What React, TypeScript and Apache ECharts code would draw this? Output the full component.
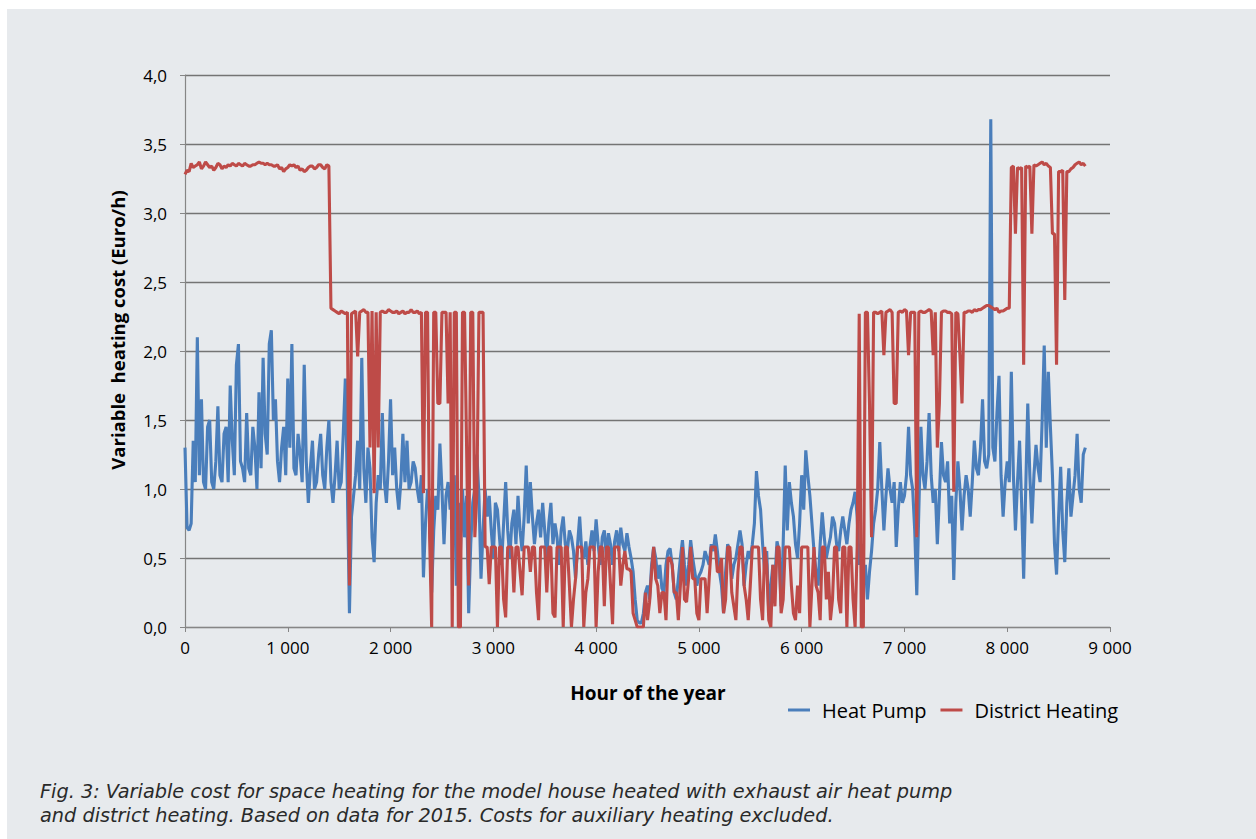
import React, { useEffect, useRef } from "react";
import * as echarts from "echarts";

const STEP_HOURS = 20;

const heatPump = [
  1.30, 0.72, 0.70, 0.75, 1.35, 1.05, 2.10, 1.10, 1.65, 1.05,
  1.00, 1.45, 1.50, 1.05, 1.00, 1.20, 1.60, 1.10, 1.05, 1.40,
  1.45, 1.05, 1.75, 1.35, 1.10, 1.90, 2.05, 1.20, 1.15, 1.05,
  1.55, 1.15, 1.10, 1.45, 1.30, 1.00, 1.70, 1.15, 1.95, 1.40,
  1.25, 2.05, 2.15, 1.50, 1.65, 1.20, 1.05, 1.30, 1.45, 1.10,
  1.80, 1.30, 2.05, 1.15, 1.10, 1.40, 1.25, 1.05, 1.90, 1.20,
  0.90, 1.15, 1.35, 1.00, 1.05, 1.25, 1.40, 1.10, 1.00, 1.30,
  1.50, 1.05, 0.90, 1.10, 1.35, 1.00, 1.05, 1.40, 1.80, 1.00,
  0.10, 0.80, 0.95, 1.10, 1.35, 1.00, 1.95, 1.15, 0.90, 1.30,
  1.15, 0.65, 0.47, 0.90, 1.10, 1.00, 1.55, 1.05, 0.90, 1.20,
  1.65, 1.10, 1.30, 1.00, 0.85, 1.05, 1.40, 1.05, 1.35, 1.00,
  1.05, 1.20, 1.15, 1.00, 0.90, 1.10, 0.36, 0.75, 1.00, 0.90,
  0.25, 0.70, 0.95, 0.85, 1.33, 1.00, 0.60, 0.95, 1.05, 0.85,
  1.00, 1.10, 0.30, 0.90, 0.55, 1.00, 0.65, 0.95, 0.10, 0.60,
  0.90, 1.00, 1.25, 0.95, 0.35, 0.70, 1.00, 0.80, 0.95, 0.70,
  0.50, 0.90, 0.85, 0.65, 0.45, 0.75, 1.05, 0.70, 0.50, 0.75,
  0.85, 0.60, 0.95, 0.70, 0.55, 0.80, 1.17, 0.75, 1.05, 0.80,
  0.60, 0.75, 0.85, 0.65, 0.90, 0.70, 0.50, 0.75, 0.90, 0.60,
  0.75, 0.65, 0.45, 0.70, 0.80, 0.60, 0.55, 0.70, 0.65, 0.55,
  0.35, 0.60, 0.80, 0.55, 0.50, 0.62, 0.45, 0.58, 0.70, 0.55,
  0.78, 0.60, 0.45, 0.65, 0.70, 0.50, 0.68, 0.60, 0.45, 0.62,
  0.70, 0.55, 0.72, 0.60, 0.55, 0.68, 0.58, 0.50, 0.40, 0.20,
  0.05, 0.03, 0.03, 0.10, 0.25, 0.30, 0.20, 0.45, 0.58, 0.50,
  0.35, 0.45, 0.28, 0.25, 0.45, 0.55, 0.57, 0.45, 0.25, 0.20,
  0.35, 0.50, 0.63, 0.45, 0.30, 0.45, 0.63, 0.50, 0.40, 0.30,
  0.37, 0.40, 0.45, 0.55, 0.50, 0.45, 0.60, 0.55, 0.67, 0.55,
  0.40, 0.30, 0.10, 0.40, 0.60, 0.55, 0.35, 0.45, 0.50, 0.60,
  0.70, 0.60, 0.30, 0.45, 0.55, 0.50, 0.60, 0.75, 1.13, 0.95,
  0.85, 0.60, 0.40, 0.55, 0.10, 0.30, 0.45, 0.35, 0.62, 0.55,
  0.15, 0.60, 1.17, 0.70, 1.05, 0.90, 0.80, 0.60, 0.50, 0.75,
  1.10, 0.85, 1.28, 1.10, 0.95, 0.75, 0.55, 0.40, 0.30, 0.60,
  0.83, 0.65, 0.50, 0.58, 0.65, 0.80, 0.75, 0.60, 0.55, 0.70,
  0.80, 0.70, 0.60, 0.75, 0.85, 0.90, 0.98, 0.80, 0.45, 0.60,
  0.30, 0.45, 0.20, 0.40, 0.55, 0.75, 0.85, 1.00, 1.34, 1.00,
  0.70, 0.95, 1.15, 1.00, 0.90, 1.05, 0.58, 0.85, 1.05, 0.90,
  0.95, 1.10, 1.45, 1.10, 1.00, 0.70, 0.23, 0.85, 1.45, 1.10,
  1.00, 1.20, 1.55, 1.10, 0.90, 1.00, 0.60, 0.95, 1.34, 1.10,
  1.05, 1.20, 0.75, 0.95, 0.34, 0.90, 1.20, 1.00, 0.70, 0.95,
  1.10, 1.00, 0.80, 1.05, 1.35, 1.15, 1.10, 1.30, 1.65, 1.20,
  1.15, 1.25, 3.68, 1.30, 1.20, 1.55, 1.82, 1.10, 0.80, 1.05,
  1.20, 1.05, 1.85, 1.10, 0.70, 1.05, 1.35, 0.90, 0.35, 1.00,
  1.62, 1.10, 0.75, 1.10, 1.32, 1.15, 1.05, 1.50, 2.04, 1.30,
  1.85, 1.45, 1.10, 0.60, 0.38, 0.80, 1.16, 0.70, 0.47, 0.90,
  1.15, 0.80, 0.95, 1.10, 1.40, 1.00, 0.90, 1.25, 1.30,
];

const districtHeating = [
  3.28, 3.31, 3.30, 3.36, 3.33, 3.34, 3.35, 3.37, 3.32, 3.34,
  3.37, 3.35, 3.33, 3.34, 3.31, 3.33, 3.36, 3.35, 3.32, 3.34,
  3.33, 3.35, 3.34, 3.36, 3.35, 3.34, 3.36, 3.35, 3.34, 3.36,
  3.35, 3.34, 3.34, 3.35, 3.35, 3.36, 3.37, 3.36, 3.36, 3.35,
  3.36, 3.35, 3.35, 3.34, 3.34, 3.35, 3.32, 3.33, 3.30, 3.32,
  3.33, 3.35, 3.34, 3.35, 3.33, 3.34, 3.31, 3.32, 3.30, 3.31,
  3.33, 3.34, 3.34, 3.32, 3.33, 3.35, 3.35, 3.33, 3.32, 3.35,
  3.34, 2.31, 2.30, 2.29, 2.28, 2.27, 2.29, 2.28, 2.27, 2.28,
  0.30, 2.27, 2.28, 2.29, 1.96, 2.28, 2.29, 2.30, 2.28, 2.28,
  1.30, 2.29, 0.97, 2.28, 1.30, 2.28, 2.29, 2.28, 2.28, 2.30,
  2.29, 2.28, 2.28, 2.29, 2.27, 2.28, 2.29, 2.27, 2.28, 2.28,
  2.30, 2.28, 2.28, 2.29, 2.27, 2.28, 0.97, 2.28, 2.28, 0.65,
  0.00, 2.28, 2.28, 1.62, 1.62, 2.28, 2.28, 2.28, 1.62, 2.28,
  0.00, 2.28, 2.28, 0.00, 0.00, 2.28, 2.28, 1.30, 0.30, 2.28,
  2.28, 0.65, 0.97, 2.28, 2.28, 2.28, 0.58, 0.58, 0.31, 0.58,
  0.58, 0.58, 0.00, 0.58, 0.58, 0.20, 0.07, 0.58, 0.58, 0.58,
  0.25, 0.58, 0.58, 0.40, 0.23, 0.58, 0.58, 0.58, 0.40, 0.58,
  0.58, 0.25, 0.05, 0.58, 0.58, 0.58, 0.25, 0.58, 0.58, 0.10,
  0.07, 0.58, 0.58, 0.58, 0.00, 0.58, 0.58, 0.30, 0.00, 0.20,
  0.35, 0.58, 0.58, 0.58, 0.00, 0.25, 0.35, 0.58, 0.58, 0.58,
  0.00, 0.40, 0.58, 0.58, 0.15, 0.58, 0.58, 0.30, 0.02, 0.58,
  0.58, 0.58, 0.30, 0.45, 0.55, 0.42, 0.42, 0.40, 0.10, 0.05,
  0.00, 0.00, 0.00, 0.00, 0.25, 0.05, 0.18, 0.40, 0.58, 0.35,
  0.30, 0.10, 0.25, 0.25, 0.05, 0.50, 0.50, 0.45, 0.25, 0.25,
  0.05, 0.30, 0.58, 0.20, 0.18, 0.35, 0.58, 0.35, 0.35, 0.10,
  0.05, 0.35, 0.35, 0.35, 0.10, 0.35, 0.58, 0.58, 0.58, 0.40,
  0.40, 0.50, 0.10, 0.20, 0.58, 0.58, 0.25, 0.15, 0.05, 0.40,
  0.58, 0.58, 0.30, 0.20, 0.05, 0.30, 0.58, 0.58, 0.58, 0.58,
  0.20, 0.05, 0.58, 0.45, 0.05, 0.00, 0.45, 0.15, 0.58, 0.58,
  0.10, 0.20, 0.58, 0.58, 0.58, 0.30, 0.10, 0.05, 0.30, 0.10,
  0.58, 0.58, 0.58, 0.58, 0.00, 0.30, 0.58, 0.30, 0.25, 0.05,
  0.58, 0.58, 0.20, 0.40, 0.05, 0.20, 0.58, 0.58, 0.20, 0.10,
  0.58, 0.58, 0.00, 0.58, 0.58, 0.20, 0.00, 0.58, 2.27, 0.00,
  0.00, 2.28, 2.28, 1.62, 0.65, 2.28, 2.28, 2.27, 2.28, 2.29,
  1.97, 2.28, 2.29, 2.30, 2.28, 1.62, 1.62, 2.28, 2.29, 2.28,
  2.30, 2.29, 1.97, 2.28, 2.28, 2.28, 0.65, 2.28, 2.29, 2.28,
  2.28, 2.29, 2.30, 2.29, 1.97, 2.28, 1.30, 1.62, 2.28, 2.29,
  2.29, 2.28, 2.28, 2.27, 0.98, 2.28, 2.27, 1.97, 1.62, 2.28,
  2.28, 2.29, 2.29, 2.28, 2.30, 2.29, 2.30, 2.30, 2.31, 2.32,
  2.33, 2.33, 2.32, 2.31, 2.30, 2.31, 2.28, 2.29, 2.29, 2.30,
  2.31, 2.31, 3.33, 3.34, 2.85, 3.33, 3.32, 3.33, 1.90, 3.34,
  3.33, 3.34, 2.85, 3.35, 3.34, 3.35, 3.36, 3.37, 3.35, 3.36,
  3.34, 3.33, 2.85, 2.85, 1.90, 3.30, 3.30, 3.31, 2.37, 3.30,
  3.30, 3.32, 3.33, 3.35, 3.36, 3.37, 3.35, 3.36, 3.34,
];

const seriesNames = ["Heat Pump", "District Heating"];
const xTitle = "Hour of the year";
const yTitle = "Variable  heating cost (Euro/h)";
const captionLines = [
  "Fig. 3: Variable cost for space heating for the model house heated with exhaust air heat pump",
  "and district heating. Based on data for 2015. Costs for auxiliary heating excluded.",
];

const toPairs = (vals: number[]) => vals.map((v, i) => [i * STEP_HOURS, v]);

export default function App() {
  const ref = useRef<HTMLDivElement>(null);
  useEffect(() => {
    if (!ref.current) return;
    const chart = echarts.init(ref.current, undefined, { renderer: "svg" });
    const labelFont = "'Open Sans', sans-serif";
    const captionStyle = {
      fontFamily: "'DejaVu Sans', sans-serif",
      fontStyle: "italic",
      fontSize: 19.3,
      fill: "#2a2a2a",
      align: "left",
      verticalAlign: "middle",
    };
    chart.setOption({
      animation: false,
      backgroundColor: "#ffffff",
      grid: { left: 185, top: 75, width: 925, height: 552, containLabel: false },
      xAxis: {
        type: "value",
        min: 0,
        max: 9000,
        interval: 1000,
        axisLine: { show: true, lineStyle: { color: "#868686", width: 1.2 } },
        axisTick: { show: true, length: 5, lineStyle: { color: "#868686" } },
        splitLine: { show: false },
        axisLabel: {
          margin: 12,
          fontFamily: labelFont,
          fontSize: 17,
          color: "#000",
          formatter: (v: number) => String(v).replace(/\B(?=(\d{3})+(?!\d))/g, " "),
        },
      },
      yAxis: {
        type: "value",
        min: 0,
        max: 4,
        interval: 0.5,
        axisLine: { show: true, lineStyle: { color: "#868686", width: 1.2 } },
        axisTick: { show: true, length: 5, lineStyle: { color: "#868686" } },
        splitLine: { show: true, lineStyle: { color: "#747474", width: 1.3 } },
        axisLabel: {
          margin: 18,
          fontFamily: labelFont,
          fontSize: 17,
          color: "#000",
          formatter: (v: number) => v.toFixed(1).replace(".", ","),
        },
      },
      legend: {
        left: 783,
        top: 695,
        icon: "rect",
        itemWidth: 22,
        itemHeight: 3,
        itemGap: 14,
        textStyle: { fontFamily: labelFont, fontSize: 20, color: "#000", padding: [0, 0, 0, 7] },
        data: seriesNames,
      },
      series: [
        {
          name: seriesNames[0],
          type: "line",
          data: toPairs(heatPump),
          showSymbol: false,
          symbol: "none",
          lineStyle: { color: "#4a7ebb", width: 3.1 },
          itemStyle: { color: "#4a7ebb" },
        },
        {
          name: seriesNames[1],
          type: "line",
          data: toPairs(districtHeating),
          showSymbol: false,
          symbol: "none",
          lineStyle: { color: "#be4b48", width: 3.1 },
          itemStyle: { color: "#be4b48" },
        },
      ],
      graphic: [
        {
          type: "rect",
          z: -10,
          silent: true,
          shape: { x: 7, y: 9, width: 1249, height: 830 },
          style: { fill: "#e7eaed" },
        },
        {
          type: "text",
          x: 648,
          y: 693,
          style: {
            text: xTitle,
            fontFamily: labelFont,
            fontWeight: "bold",
            fontSize: 19,
            fill: "#000",
            align: "center",
            verticalAlign: "middle",
          },
        },
        {
          type: "text",
          x: 117,
          y: 330,
          rotation: Math.PI / 2,
          style: {
            text: yTitle,
            fontFamily: labelFont,
            fontWeight: "bold",
            fontSize: 18.5,
            fill: "#000",
            align: "center",
            verticalAlign: "middle",
          },
        },
        { type: "text", x: 40, y: 791, style: { ...captionStyle, text: captionLines[0] } },
        { type: "text", x: 40, y: 815, style: { ...captionStyle, text: captionLines[1] } },
      ],
    });
    return () => chart.dispose();
  }, []);
  return (
    <div
      ref={ref}
      style={{ position: "fixed", left: 0, top: 0, width: 1256, height: 839 }}
    />
  );
}
